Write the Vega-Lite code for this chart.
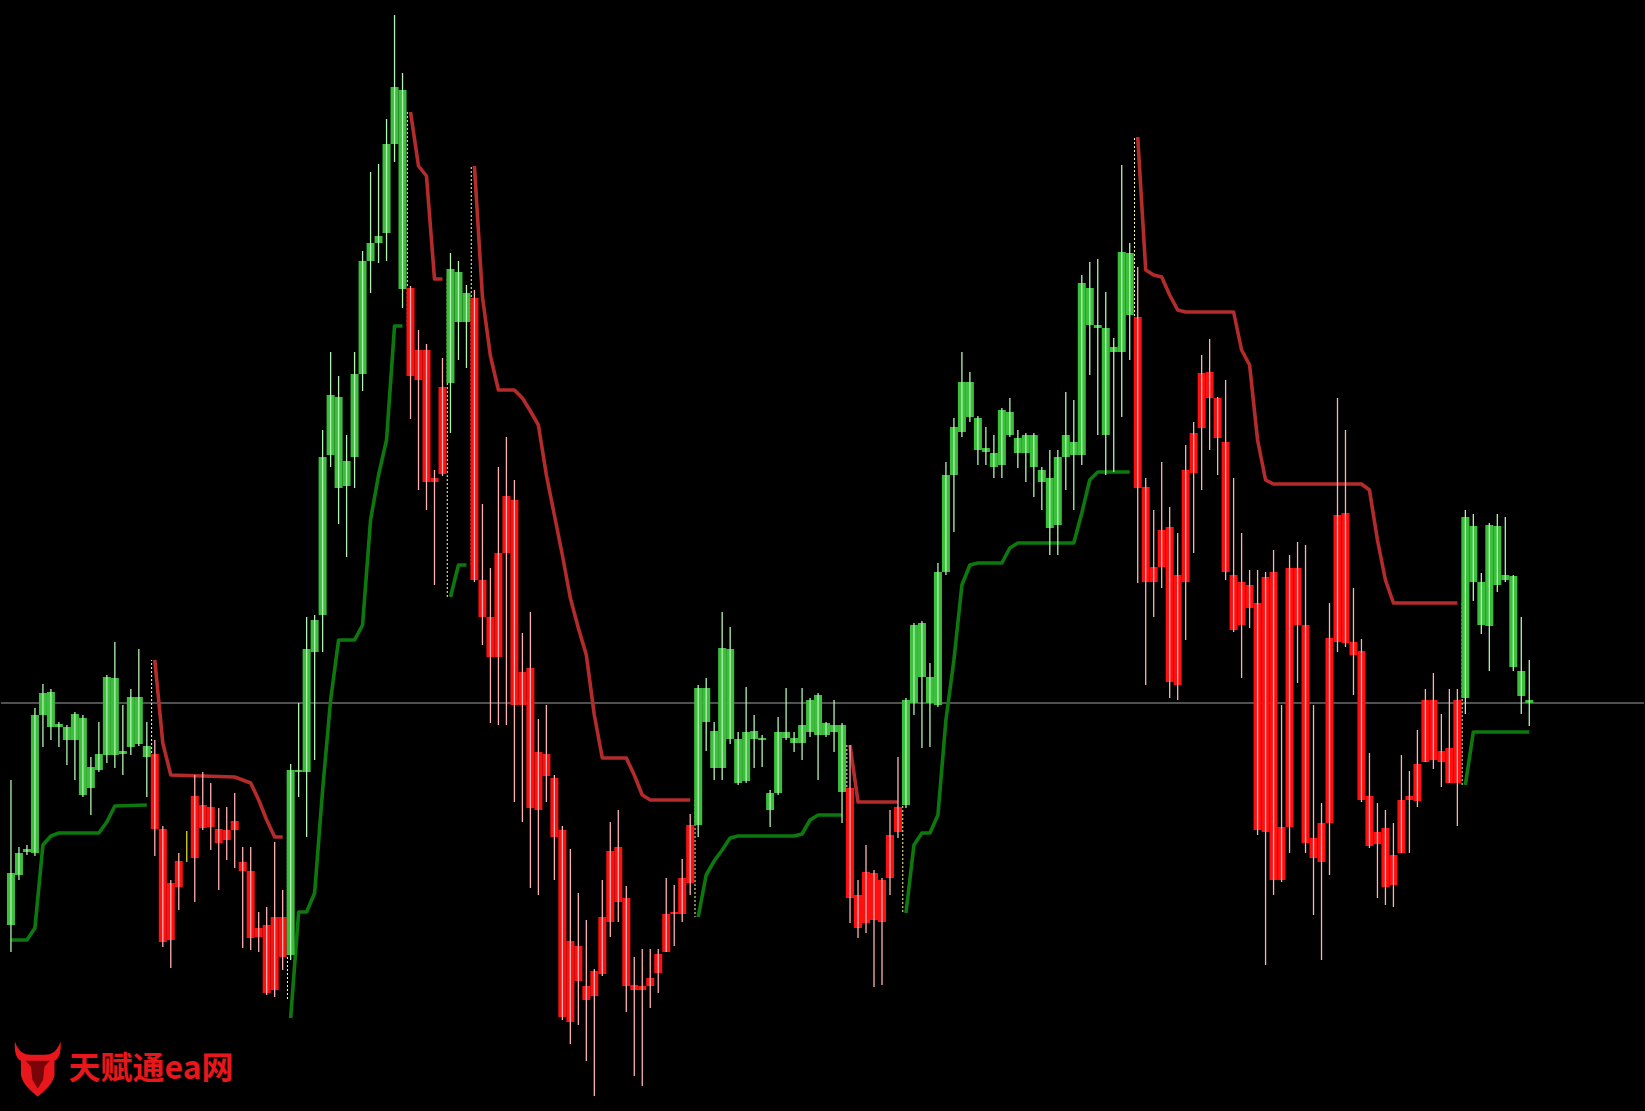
{
"$schema": "https://vega.github.io/schema/vega-lite/v6.json",
"width": 1645, "height": 1111,
"autosize": {"type": "fit", "contains": "padding"},
"padding": 0,
"background": "#000000",
"config": {"view": {"stroke": null}},
"datasets": {
"candles": [
{"i":0,"o":186,"h":331,"l":159,"c":238},{"i":1,"o":236,"h":264,"l":231,"c":258},{"i":2,"o":259,"h":266,"l":256,"c":262},{"i":3,"o":258,"h":403,"l":255,"c":396},{"i":4,"o":396,"h":427,"l":364,"c":418},
{"i":5,"o":384,"h":422,"l":371,"c":419},{"i":6,"o":384,"h":389,"l":364,"c":387},{"i":7,"o":371,"h":386,"l":346,"c":384},{"i":8,"o":371,"h":399,"l":331,"c":397},{"i":9,"o":316,"h":396,"l":314,"c":393},
{"i":10,"o":323,"h":354,"l":296,"c":344},{"i":11,"o":341,"h":389,"l":339,"c":357},{"i":12,"o":356,"h":436,"l":348,"c":434},{"i":13,"o":356,"h":469,"l":343,"c":433},{"i":14,"o":357,"h":406,"l":336,"c":360},
{"i":15,"o":364,"h":422,"l":356,"c":414},{"i":16,"o":367,"h":462,"l":365,"c":414},{"i":17,"o":354,"h":389,"l":314,"c":365},{"i":18,"o":357,"h":371,"l":255,"c":282},{"i":19,"o":282,"h":285,"l":164,"c":169},
{"i":20,"o":228,"h":231,"l":143,"c":171},{"i":21,"o":250,"h":258,"l":201,"c":224},{"i":22,"o":253,"h":280,"l":249,"c":253},{"i":23,"o":315,"h":336,"l":209,"c":253},{"i":24,"o":306,"h":339,"l":281,"c":283},
{"i":25,"o":304,"h":328,"l":261,"c":284},{"i":26,"o":282,"h":303,"l":221,"c":268},{"i":27,"o":281,"h":304,"l":251,"c":271},{"i":28,"o":290,"h":318,"l":243,"c":281},{"i":29,"o":249,"h":264,"l":163,"c":240},
{"i":30,"o":240,"h":264,"l":161,"c":173},{"i":31,"o":183,"h":199,"l":159,"c":174},{"i":32,"o":186,"h":204,"l":116,"c":118},{"i":33,"o":194,"h":269,"l":114,"c":121},{"i":34,"o":194,"h":221,"l":141,"c":154},
{"i":35,"o":156,"h":347,"l":151,"c":341},{"i":36,"o":339,"h":408,"l":314,"c":341},{"i":37,"o":339,"h":494,"l":274,"c":462},{"i":38,"o":459,"h":496,"l":351,"c":491},{"i":39,"o":496,"h":681,"l":459,"c":654},
{"i":40,"o":656,"h":759,"l":644,"c":716},{"i":41,"o":623,"h":735,"l":587,"c":714},{"i":42,"o":625,"h":676,"l":554,"c":650},{"i":43,"o":654,"h":759,"l":623,"c":737},{"i":44,"o":737,"h":860,"l":720,"c":850},
{"i":45,"o":850,"h":939,"l":818,"c":868},{"i":46,"o":868,"h":947,"l":848,"c":875},{"i":47,"o":878,"h":992,"l":850,"c":967},{"i":48,"o":967,"h":1096,"l":949,"c":1024},{"i":49,"o":822,"h":1038,"l":803,"c":1021},
{"i":50,"o":823,"h":825,"l":692,"c":735},{"i":51,"o":761,"h":781,"l":621,"c":731},{"i":52,"o":761,"h":767,"l":601,"c":629},{"i":53,"o":633,"h":641,"l":526,"c":629},{"i":54,"o":724,"h":753,"l":635,"c":637},
{"i":55,"o":728,"h":858,"l":678,"c":842},{"i":56,"o":789,"h":850,"l":751,"c":839},{"i":57,"o":789,"h":826,"l":743,"c":818},{"i":58,"o":813,"h":821,"l":529,"c":531},{"i":59,"o":531,"h":607,"l":466,"c":494},
{"i":60,"o":494,"h":543,"l":388,"c":454},{"i":61,"o":558,"h":644,"l":386,"c":454},{"i":62,"o":615,"h":674,"l":386,"c":558},{"i":63,"o":611,"h":631,"l":309,"c":406},{"i":64,"o":439,"h":478,"l":289,"c":406},
{"i":65,"o":443,"h":499,"l":223,"c":303},{"i":66,"o":359,"h":392,"l":216,"c":301},{"i":67,"o":357,"h":406,"l":309,"c":335},{"i":68,"o":333,"h":336,"l":231,"c":274},{"i":69,"o":281,"h":285,"l":91,"c":94},
{"i":70,"o":170,"h":262,"l":67,"c":89},{"i":71,"o":165,"h":218,"l":86,"c":130},{"i":72,"o":125,"h":191,"l":50,"c":111},{"i":73,"o":140,"h":142,"l":15,"c":115},{"i":74,"o":194,"h":231,"l":135,"c":137},
{"i":75,"o":260,"h":289,"l":174,"c":189},{"i":76,"o":264,"h":301,"l":189,"c":209},{"i":77,"o":213,"h":225,"l":99,"c":125},{"i":78,"o":126,"h":154,"l":35,"c":121},{"i":79,"o":125,"h":162,"l":25,"c":121},
{"i":80,"o":133,"h":162,"l":103,"c":125},{"i":81,"o":157,"h":162,"l":118,"c":138},{"i":82,"o":197,"h":233,"l":159,"c":159},{"i":83,"o":199,"h":226,"l":165,"c":197},{"i":84,"o":233,"h":252,"l":189,"c":197},
{"i":85,"o":286,"h":297,"l":216,"c":228},{"i":86,"o":286,"h":426,"l":274,"c":423},{"i":87,"o":389,"h":433,"l":360,"c":423},{"i":88,"o":343,"h":389,"l":331,"c":380},{"i":89,"o":343,"h":499,"l":331,"c":463},
{"i":90,"o":372,"h":484,"l":367,"c":462},{"i":91,"o":328,"h":379,"l":326,"c":372},{"i":92,"o":330,"h":424,"l":328,"c":379},{"i":93,"o":372,"h":396,"l":343,"c":380},{"i":94,"o":371,"h":376,"l":344,"c":373},
{"i":95,"o":301,"h":321,"l":284,"c":318},{"i":96,"o":318,"h":394,"l":316,"c":379},{"i":97,"o":373,"h":423,"l":371,"c":379},{"i":98,"o":368,"h":379,"l":359,"c":373},{"i":99,"o":368,"h":423,"l":351,"c":386},
{"i":100,"o":379,"h":413,"l":374,"c":411},{"i":101,"o":376,"h":418,"l":331,"c":416},{"i":102,"o":376,"h":389,"l":374,"c":388},{"i":103,"o":379,"h":411,"l":359,"c":386},{"i":104,"o":319,"h":388,"l":288,"c":386},
{"i":105,"o":323,"h":366,"l":188,"c":213},{"i":106,"o":216,"h":231,"l":173,"c":183},{"i":107,"o":239,"h":266,"l":178,"c":188},{"i":108,"o":238,"h":241,"l":124,"c":191},{"i":109,"o":231,"h":233,"l":126,"c":189},
{"i":110,"o":276,"h":301,"l":216,"c":233},{"i":111,"o":304,"h":354,"l":273,"c":279},{"i":112,"o":306,"h":413,"l":303,"c":411},{"i":113,"o":408,"h":488,"l":396,"c":486},{"i":114,"o":434,"h":490,"l":363,"c":488},
{"i":115,"o":408,"h":448,"l":364,"c":434},{"i":116,"o":406,"h":548,"l":404,"c":539},{"i":117,"o":539,"h":649,"l":536,"c":636},{"i":118,"o":636,"h":693,"l":579,"c":684},{"i":119,"o":679,"h":759,"l":674,"c":729},
{"i":120,"o":694,"h":739,"l":689,"c":729},{"i":121,"o":661,"h":695,"l":646,"c":693},{"i":122,"o":659,"h":684,"l":646,"c":663},{"i":123,"o":644,"h":676,"l":633,"c":658},{"i":124,"o":646,"h":703,"l":633,"c":701},
{"i":125,"o":676,"h":713,"l":674,"c":699},{"i":126,"o":658,"h":681,"l":643,"c":673},{"i":127,"o":658,"h":678,"l":629,"c":676},{"i":128,"o":644,"h":678,"l":614,"c":676},{"i":129,"o":629,"h":644,"l":601,"c":641},
{"i":130,"o":583,"h":661,"l":556,"c":633},{"i":131,"o":586,"h":661,"l":556,"c":654},{"i":132,"o":654,"h":719,"l":621,"c":676},{"i":133,"o":656,"h":711,"l":601,"c":669},{"i":134,"o":656,"h":836,"l":646,"c":828},
{"i":135,"o":786,"h":849,"l":736,"c":823},{"i":136,"o":783,"h":852,"l":676,"c":786},{"i":137,"o":676,"h":819,"l":636,"c":783},{"i":138,"o":759,"h":773,"l":639,"c":764},{"i":139,"o":759,"h":946,"l":694,"c":859},
{"i":140,"o":796,"h":868,"l":751,"c":858},{"i":141,"o":794,"h":844,"l":528,"c":623},{"i":142,"o":624,"h":633,"l":426,"c":529},{"i":143,"o":544,"h":601,"l":494,"c":529},{"i":144,"o":581,"h":649,"l":523,"c":544},
{"i":145,"o":584,"h":604,"l":413,"c":429},{"i":146,"o":536,"h":578,"l":411,"c":426},{"i":147,"o":641,"h":666,"l":471,"c":529},{"i":148,"o":678,"h":689,"l":558,"c":638},{"i":149,"o":738,"h":756,"l":621,"c":683},
{"i":150,"o":739,"h":772,"l":661,"c":713},{"i":151,"o":713,"h":714,"l":636,"c":673},{"i":152,"o":669,"h":731,"l":531,"c":539},{"i":153,"o":536,"h":633,"l":479,"c":481},{"i":154,"o":529,"h":578,"l":433,"c":486},
{"i":155,"o":526,"h":541,"l":483,"c":503},{"i":156,"o":508,"h":541,"l":276,"c":281},{"i":157,"o":534,"h":539,"l":146,"c":279},{"i":158,"o":539,"h":561,"l":216,"c":231},{"i":159,"o":284,"h":406,"l":229,"c":231},
{"i":160,"o":543,"h":556,"l":258,"c":284},{"i":161,"o":543,"h":569,"l":428,"c":486},{"i":162,"o":486,"h":566,"l":258,"c":268},{"i":163,"o":273,"h":406,"l":196,"c":253},{"i":164,"o":288,"h":308,"l":151,"c":249},
{"i":165,"o":473,"h":508,"l":236,"c":288},{"i":166,"o":596,"h":713,"l":459,"c":469},{"i":167,"o":598,"h":681,"l":464,"c":468},{"i":168,"o":469,"h":523,"l":416,"c":456},{"i":169,"o":460,"h":472,"l":309,"c":311},
{"i":170,"o":315,"h":358,"l":263,"c":265},{"i":171,"o":279,"h":308,"l":213,"c":267},{"i":172,"o":283,"h":301,"l":206,"c":224},{"i":173,"o":256,"h":288,"l":204,"c":226},{"i":174,"o":311,"h":356,"l":258,"c":258},
{"i":175,"o":315,"h":340,"l":258,"c":311},{"i":176,"o":347,"h":381,"l":304,"c":310},{"i":177,"o":411,"h":422,"l":349,"c":349},{"i":178,"o":411,"h":438,"l":342,"c":351},{"i":179,"o":360,"h":397,"l":324,"c":349},
{"i":180,"o":363,"h":422,"l":328,"c":328},{"i":181,"o":411,"h":422,"l":285,"c":328},{"i":182,"o":413,"h":601,"l":397,"c":594},{"i":183,"o":529,"h":597,"l":510,"c":585},{"i":184,"o":486,"h":538,"l":477,"c":529},
{"i":185,"o":485,"h":588,"l":440,"c":586},{"i":186,"o":526,"h":597,"l":519,"c":585},{"i":187,"o":531,"h":594,"l":529,"c":536},{"i":188,"o":444,"h":536,"l":440,"c":535},{"i":189,"o":415,"h":494,"l":397,"c":440},
{"i":190,"o":408,"h":451,"l":385,"c":411}
],
"stops": [
{"i":0,"v":171,"s":1,"k":"sup"},{"i":2,"v":171,"s":1,"k":"sup"},{"i":3,"v":183,"s":1,"k":"sup"},{"i":4,"v":266,"s":1,"k":"sup"},{"i":5,"v":275,"s":1,"k":"sup"},{"i":6,"v":278,"s":1,"k":"sup"},{"i":11,"v":278,"s":1,"k":"sup"},{"i":12,"v":289,"s":1,"k":"sup"},{"i":13,"v":305,"s":1,"k":"sup"},{"i":17,"v":306,"s":1,"k":"sup"},
{"i":18,"v":451,"s":2,"k":"res"},{"i":19,"v":368,"s":2,"k":"res"},{"i":20,"v":336,"s":2,"k":"res"},{"i":28,"v":334,"s":2,"k":"res"},{"i":29,"v":331,"s":2,"k":"res"},{"i":30,"v":328,"s":2,"k":"res"},{"i":31,"v":311,"s":2,"k":"res"},{"i":32,"v":291,"s":2,"k":"res"},{"i":33,"v":274,"s":2,"k":"res"},{"i":34,"v":274,"s":2,"k":"res"},
{"i":35,"v":93,"s":3,"k":"sup"},{"i":36,"v":199,"s":3,"k":"sup"},{"i":37,"v":199,"s":3,"k":"sup"},{"i":38,"v":218,"s":3,"k":"sup"},{"i":39,"v":321,"s":3,"k":"sup"},{"i":40,"v":411,"s":3,"k":"sup"},{"i":41,"v":471,"s":3,"k":"sup"},{"i":43,"v":471,"s":3,"k":"sup"},{"i":44,"v":486,"s":3,"k":"sup"},{"i":45,"v":591,"s":3,"k":"sup"},{"i":46,"v":636,"s":3,"k":"sup"},{"i":47,"v":671,"s":3,"k":"sup"},{"i":48,"v":785,"s":3,"k":"sup"},{"i":49,"v":785,"s":3,"k":"sup"},
{"i":50,"v":999,"s":4,"k":"res"},{"i":51,"v":945,"s":4,"k":"res"},{"i":52,"v":935,"s":4,"k":"res"},{"i":53,"v":832,"s":4,"k":"res"},{"i":54,"v":832,"s":4,"k":"res"},
{"i":55,"v":514,"s":5,"k":"sup"},{"i":56,"v":546,"s":5,"k":"sup"},{"i":57,"v":546,"s":5,"k":"sup"},
{"i":58,"v":945,"s":6,"k":"res"},{"i":59,"v":814,"s":6,"k":"res"},{"i":60,"v":755,"s":6,"k":"res"},{"i":61,"v":721,"s":6,"k":"res"},{"i":63,"v":721,"s":6,"k":"res"},{"i":64,"v":713,"s":6,"k":"res"},{"i":65,"v":700,"s":6,"k":"res"},{"i":66,"v":686,"s":6,"k":"res"},{"i":67,"v":636,"s":6,"k":"res"},{"i":68,"v":596,"s":6,"k":"res"},{"i":69,"v":556,"s":6,"k":"res"},{"i":70,"v":513,"s":6,"k":"res"},{"i":71,"v":483,"s":6,"k":"res"},{"i":72,"v":456,"s":6,"k":"res"},{"i":73,"v":396,"s":6,"k":"res"},{"i":74,"v":353,"s":6,"k":"res"},{"i":77,"v":353,"s":6,"k":"res"},{"i":78,"v":336,"s":6,"k":"res"},{"i":79,"v":316,"s":6,"k":"res"},{"i":80,"v":311,"s":6,"k":"res"},{"i":85,"v":311,"s":6,"k":"res"},
{"i":86,"v":194,"s":7,"k":"sup"},{"i":87,"v":236,"s":7,"k":"sup"},{"i":88,"v":250,"s":7,"k":"sup"},{"i":89,"v":261,"s":7,"k":"sup"},{"i":90,"v":273,"s":7,"k":"sup"},{"i":91,"v":275,"s":7,"k":"sup"},{"i":98,"v":275,"s":7,"k":"sup"},{"i":99,"v":277,"s":7,"k":"sup"},{"i":100,"v":291,"s":7,"k":"sup"},{"i":101,"v":296,"s":7,"k":"sup"},{"i":104,"v":296,"s":7,"k":"sup"},
{"i":105,"v":366,"s":8,"k":"res"},{"i":106,"v":309,"s":8,"k":"res"},{"i":111,"v":309,"s":8,"k":"res"},
{"i":112,"v":198,"s":9,"k":"sup"},{"i":113,"v":266,"s":9,"k":"sup"},{"i":114,"v":278,"s":9,"k":"sup"},{"i":115,"v":278,"s":9,"k":"sup"},{"i":116,"v":296,"s":9,"k":"sup"},{"i":117,"v":391,"s":9,"k":"sup"},{"i":118,"v":451,"s":9,"k":"sup"},{"i":119,"v":526,"s":9,"k":"sup"},{"i":120,"v":546,"s":9,"k":"sup"},{"i":121,"v":548,"s":9,"k":"sup"},{"i":124,"v":548,"s":9,"k":"sup"},{"i":125,"v":563,"s":9,"k":"sup"},{"i":126,"v":568,"s":9,"k":"sup"},{"i":133,"v":568,"s":9,"k":"sup"},{"i":134,"v":598,"s":9,"k":"sup"},{"i":135,"v":631,"s":9,"k":"sup"},{"i":136,"v":639,"s":9,"k":"sup"},{"i":140,"v":639,"s":9,"k":"sup"},
{"i":141,"v":974,"s":10,"k":"res"},{"i":142,"v":841,"s":10,"k":"res"},{"i":143,"v":836,"s":10,"k":"res"},{"i":144,"v":834,"s":10,"k":"res"},{"i":145,"v":816,"s":10,"k":"res"},{"i":146,"v":801,"s":10,"k":"res"},{"i":147,"v":799,"s":10,"k":"res"},{"i":153,"v":799,"s":10,"k":"res"},{"i":154,"v":761,"s":10,"k":"res"},{"i":155,"v":746,"s":10,"k":"res"},{"i":156,"v":671,"s":10,"k":"res"},{"i":157,"v":631,"s":10,"k":"res"},{"i":158,"v":627,"s":10,"k":"res"},{"i":169,"v":627,"s":10,"k":"res"},{"i":170,"v":621,"s":10,"k":"res"},{"i":171,"v":571,"s":10,"k":"res"},{"i":172,"v":531,"s":10,"k":"res"},{"i":173,"v":508,"s":10,"k":"res"},{"i":181,"v":508,"s":10,"k":"res"},
{"i":182,"v":326,"s":11,"k":"sup"},{"i":183,"v":379,"s":11,"k":"sup"},{"i":190,"v":379,"s":11,"k":"sup"}
],
"dashes": [
{"i":17.6,"a":306,"b":451},{"i":34.6,"a":274,"b":111},{"i":49.6,"a":785,"b":999},{"i":54.6,"a":832,"b":514},{"i":57.6,"a":546,"b":945},
{"i":85.6,"a":311,"b":194},{"i":104.6,"a":296,"b":366},{"i":111.6,"a":309,"b":198},{"i":140.6,"a":639,"b":974},{"i":181.6,"a":508,"b":326}
],
"brand": [{"i":7.2,"p":42,"t":"天赋通ea网"}],
"logo": [{"i":3.35,"p":43}]
},
"layer": [
{
"data": {"values": [{"p": 408}]},
"mark": {"type": "rule", "color": "#a0a0a0", "strokeWidth": 1},
"encoding": {"y": {"field": "p", "type": "quantitative", "scale": {"domain": [0, 1111], "nice": false, "zero": false}, "axis": null}}
},
{
"data": {"name": "stops"},
"mark": {"type": "line", "strokeWidth": 3.6, "strokeJoin": "round"},
"encoding": {
"x": {"field": "i", "type": "quantitative", "scale": {"domain": [-0.621, 203.73], "nice": false, "zero": false}, "axis": null},
"y": {"field": "v", "type": "quantitative", "scale": {"domain": [0, 1111], "nice": false, "zero": false}, "axis": null},
"detail": {"field": "s"},
"color": {"field": "k", "type": "nominal", "scale": {"domain": ["sup", "res"], "range": ["#0d780d", "#b42b2b"]}, "legend": null}
}
},
{
"data": {"name": "dashes"},
"mark": {"type": "rule", "strokeWidth": 1, "strokeDash": [2, 2], "color": "#ffffa0"},
"encoding": {
"x": {"field": "i", "type": "quantitative", "scale": {"domain": [-0.621, 203.73], "nice": false, "zero": false}, "axis": null},
"y": {"field": "a", "type": "quantitative", "scale": {"domain": [0, 1111], "nice": false, "zero": false}, "axis": null},
"y2": {"field": "b"}
}
},
{
"data": {"name": "candles"},
"transform": [{"calculate": "datum.c > datum.o ? 'up' : (datum.c < datum.o ? 'dn' : 'eq')", "as": "dir"}],
"mark": {"type": "bar", "width": 8},
"encoding": {
"x": {"field": "i", "type": "quantitative", "scale": {"domain": [-0.621, 203.73], "nice": false, "zero": false}, "axis": null},
"y": {"field": "o", "type": "quantitative", "scale": {"domain": [0, 1111], "nice": false, "zero": false}, "axis": null},
"y2": {"field": "c"},
"fill": {"field": "dir", "type": "nominal", "scale": {"domain": ["up", "dn", "eq"], "range": ["#3cbf3c", "#ff1010", "#b4b400"]}, "legend": null}
}
},
{
"data": {"name": "candles"},
"transform": [{"calculate": "datum.c > datum.o ? 'up' : (datum.c < datum.o ? 'dn' : 'eq')", "as": "dir"}],
"mark": {"type": "rule", "strokeWidth": 1.3},
"encoding": {
"x": {"field": "i", "type": "quantitative", "scale": {"domain": [-0.621, 203.73], "nice": false, "zero": false}, "axis": null},
"y": {"field": "l", "type": "quantitative", "scale": {"domain": [0, 1111], "nice": false, "zero": false}, "axis": null},
"y2": {"field": "h"},
"stroke": {"field": "dir", "type": "nominal", "scale": {"domain": ["up", "dn", "eq"], "range": ["#b2f2b2", "#ffb0b0", "#d8d830"]}, "legend": null}
}
},
{
"data": {"name": "logo"},
"mark": {"type": "point", "filled": true, "size": 2300, "color": "#e8171c", "opacity": 1,
"shape": "M-0.95,-1.1 C-1.0,-0.6 -0.85,-0.35 -0.7,-0.3 L-0.7,0.3 C-0.6,0.75 -0.2,1.0 0,1.2 C0.2,1.0 0.6,0.75 0.7,0.3 L0.7,-0.3 C0.85,-0.35 1.0,-0.6 0.95,-1.1 C0.8,-0.65 0.55,-0.55 0.3,-0.55 L-0.3,-0.55 C-0.55,-0.55 -0.8,-0.65 -0.95,-1.1 Z"},
"encoding": {
"x": {"field": "i", "type": "quantitative", "scale": {"domain": [-0.621, 203.73], "nice": false, "zero": false}, "axis": null},
"y": {"field": "p", "type": "quantitative", "scale": {"domain": [0, 1111], "nice": false, "zero": false}, "axis": null}
}
},
{
"data": {"name": "logo"},
"mark": {"type": "point", "filled": true, "size": 2300, "color": "#7a0508", "opacity": 1,
"shape": "M-0.5,-0.3 L0.5,-0.3 L0.28,-0.05 L0.22,0.5 L0,0.85 L-0.22,0.5 L-0.28,-0.05 Z"},
"encoding": {
"x": {"field": "i", "type": "quantitative", "scale": {"domain": [-0.621, 203.73], "nice": false, "zero": false}, "axis": null},
"y": {"field": "p", "type": "quantitative", "scale": {"domain": [0, 1111], "nice": false, "zero": false}, "axis": null}
}
},
{
"data": {"name": "brand"},
"mark": {"type": "text", "align": "left", "baseline": "middle", "font": "Noto Sans CJK SC", "fontWeight": "bold", "fontSize": 32, "color": "#e8171c"},
"encoding": {
"x": {"field": "i", "type": "quantitative", "scale": {"domain": [-0.621, 203.73], "nice": false, "zero": false}, "axis": null},
"y": {"field": "p", "type": "quantitative", "scale": {"domain": [0, 1111], "nice": false, "zero": false}, "axis": null},
"text": {"field": "t"}
}
}
],
"resolve": {"scale": {"color": "independent", "fill": "independent", "stroke": "independent"}}
}
